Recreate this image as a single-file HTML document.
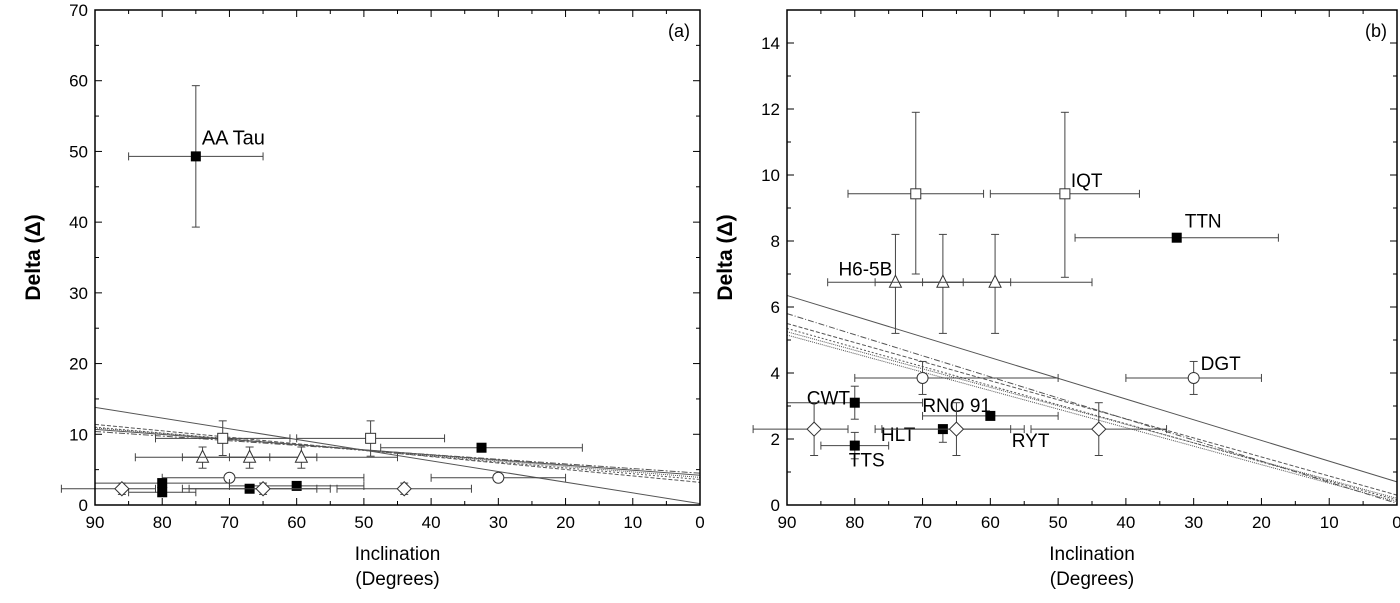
<!DOCTYPE html>
<html><head><meta charset="utf-8"><style>
body{margin:0;background:#fff}
svg{display:block;font-family:"Liberation Sans",Arial,sans-serif}
</style></head><body>
<svg id="c" width="1400" height="603" viewBox="0 0 1400 603"></svg>
<script>
const incl=[71,49,32.5,74,67,59.3,70,30,80,60,67,80,86,65,44];
const delta=[9.43,9.43,8.1,6.75,6.75,6.75,3.85,3.85,3.1,2.7,2.3,1.8,2.3,2.3,2.3];
const xLo=[81,60,47.5,84,77,70,80,40,90,70,77,85,95,76,54];
const xHi=[61,38,17.5,64,57,45,50,20,70,50,57,75,81,55,34];
const yLo=[7,6.9,8.1,5.2,5.2,5.2,3.35,3.35,2.6,2.7,1.9,1.4,1.5,1.5,1.5];
const yHi=[11.9,11.9,8.1,8.2,8.2,8.2,4.35,4.35,3.6,2.7,2.3,2.2,3.1,3.1,3.1];
const shape=['sq','sq','fsq','tri','tri','tri','circ','circ','fsq','fsq','fsq','fsq','dia','dia','dia'];
const names=['','IQT','TTN','H6-5B','','','','DGT','CWT','RNO 91','HLT','TTS','','','RYT'];
const aaTau=[75,49.3,85,65,39.3,59.3];
const linesA=[[13.8,0.2,'none'],[11.4,3.2,'4,2'],[11,3.6,'2,2'],[10.7,4.2,'none'],[10.4,4.5,'6,2,2,2'],[10.9,3.9,'1,1']];
const linesB=[[6.35,0.7,'none'],[5.8,0.05,'6,2,1,2'],[5.5,0.3,'4,2'],[5.35,0.15,'2,2'],[5.25,0.2,'1,1'],[5.15,0.1,'1,1']];
const labelOff={'IQT':[6,-7],'TTN':[8,-10],'H6-5B':[-57,-7],'DGT':[7,-8],'CWT':[-48,2],'RNO 91':[-68,-4],'HLT':[-62,12],'TTS':[-6,21],'RYT':[-87,18]};
const svg=document.getElementById('c');
const NS='http://www.w3.org/2000/svg';
function el(t,a,p){const e=document.createElementNS(NS,t);for(const k in a)e.setAttribute(k,a[k]);(p||svg).appendChild(e);return e;}
function panel(id,L,R,T,B,ymax,ystep,lines,withAA,tag){
  const g=el('g',{});
  
  
  const X=v=>R-(v/90)*(R-L), Y=v=>B-(v/ymax)*(B-T);
  lines.forEach((ln,i)=>{const l=el('line',{x1:X(90),y1:Y(ln[0]),x2:X(0),y2:Y(ln[1]),stroke:'#555','stroke-width':1,'stroke-dasharray':ln[2]},g);
    
    });
  const pts=incl.map((v,i)=>({x:v,y:delta[i],xl:xLo[i],xh:xHi[i],yl:yLo[i],yh:yHi[i],s:shape[i],n:id==='b'?names[i]:''}));
  if(withAA)pts.push({x:aaTau[0],y:aaTau[1],xl:aaTau[2],xh:aaTau[3],yl:aaTau[4],yh:aaTau[5],s:'fsq',n:'AA Tau'});
  pts.forEach((p,i)=>{
    const pg=el('g',{},g);
    
    
    const cx=X(p.x),cy=Y(p.y),st={stroke:'#444','stroke-width':1};
    el('line',Object.assign({x1:X(p.xl),x2:X(p.xh),y1:cy,y2:cy},st),pg);
    [p.xl,p.xh].forEach(v=>el('line',Object.assign({x1:X(v),x2:X(v),y1:cy-4,y2:cy+4},st),pg));
    if(p.yl!==p.yh){el('line',Object.assign({x1:cx,x2:cx,y1:Y(p.yl),y2:Y(p.yh)},st),pg);
      [p.yl,p.yh].forEach(v=>el('line',Object.assign({x1:cx-4,x2:cx+4,y1:Y(v),y2:Y(v)},st),pg));}
    const s=5;
    if(p.s==='sq')el('rect',{x:cx-s,y:cy-s,width:2*s,height:2*s,fill:'#fff',stroke:'#333'},pg);
    if(p.s==='fsq')el('rect',{x:cx-s,y:cy-s,width:2*s,height:2*s,fill:'#000'},pg);
    if(p.s==='tri')el('polygon',{points:`${cx},${cy-7} ${cx-6},${cy+5} ${cx+6},${cy+5}`,fill:'#fff',stroke:'#333'},pg);
    if(p.s==='circ')el('circle',{cx:cx,cy:cy,r:5.5,fill:'#fff',stroke:'#333'},pg);
    if(p.s==='dia')el('polygon',{points:`${cx},${cy-7} ${cx+7},${cy} ${cx},${cy+7} ${cx-7},${cy}`,fill:'#fff',stroke:'#333'},pg);
    if(p.n){const o=p.n==='AA Tau'?[6,-12]:(labelOff[p.n]||[8,-6]);
      const t=el('text',{x:cx+o[0],y:cy+o[1],'font-size':p.n==='AA Tau'?20:19,fill:'#000'},pg);t.textContent=p.n;
      
      }
  });
  el('rect',{x:L,y:T,width:R-L,height:B-T,fill:'none',stroke:'#000','stroke-width':1.5},g);
  for(let v=0;v<=90;v+=5){const x=X(v),len=v%10?4:7;
    el('line',{x1:x,x2:x,y1:B,y2:B-len,stroke:'#000'},g);el('line',{x1:x,x2:x,y1:T,y2:T+len,stroke:'#000'},g);
    if(v%10===0){const t=el('text',{x:x,y:B+23,'text-anchor':'middle','font-size':17},g);t.textContent=v;}}
  for(let v=0;v<=ymax+1e-9;v+=ystep/2){const y=Y(v),maj=Math.abs(v/ystep-Math.round(v/ystep))<1e-6,len=maj?7:4;
    el('line',{x1:L,x2:L+len,y1:y,y2:y,stroke:'#000'},g);el('line',{x1:R,x2:R-len,y1:y,y2:y,stroke:'#000'},g);
    if(maj&&v<ymax-1e-6||(maj&&id==='a')){const t=el('text',{x:L-7,y:y+6,'text-anchor':'end','font-size':17},g);t.textContent=Math.round(v);}}
  const tg=el('text',{x:R-10,y:T+27,'text-anchor':'end','font-size':18},g);tg.textContent=tag;
  const xt=el('text',{x:(L+R)/2,y:B+55,'text-anchor':'middle','font-size':19},g);xt.textContent='Inclination';
  
  const xt2=el('text',{x:(L+R)/2,y:B+80,'text-anchor':'middle','font-size':19},g);xt2.textContent='(Degrees)';
  const yt=el('text',{x:0,y:0,'text-anchor':'middle','font-size':21,'font-weight':'bold',transform:`translate(${L-55},${(T+B)/2}) rotate(-90)`},g);yt.textContent='Delta (\u0394)';
  
}
panel('a',95,700,10,505,70,10,linesA,true,'(a)');
panel('b',787,1397,10,505,15,2,linesB,false,'(b)');
</script>
</body></html>
